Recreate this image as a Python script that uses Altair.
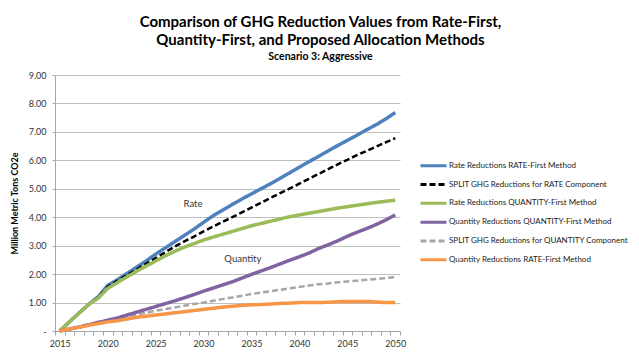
import altair as alt
import pandas as pd

years = list(range(2015, 2051))

series_names = [
    "Rate Reductions RATE-First Method",
    "SPLIT GHG Reductions for RATE Component",
    "Rate Reductions QUANTITY-First Method",
    "Quantity Reductions QUANTITY-First Method",
    "SPLIT GHG Reductions for QUANTITY Component",
    "Quantity Reductions RATE-First Method",
]
series_colors = ["#4F81BD", "#000000", "#9BBB59", "#8064A2", "#A6A6A6", "#F79646"]
series_dash = [[1, 0], [6, 3], [1, 0], [1, 0], [6, 3], [1, 0]]
dashed_series = [series_names[1], series_names[4]]
bottom_series = [series_names[0]]

rate_rate_first = [0, 0.32, 0.63, 0.93, 1.2, 1.6, 1.8, 2.02, 2.24, 2.46, 2.7, 2.92, 3.14, 3.36, 3.58,
                   3.82, 4.05, 4.25, 4.45, 4.64, 4.82, 5.0, 5.18, 5.37, 5.56, 5.76, 5.95, 6.14, 6.33,
                   6.52, 6.7, 6.88, 7.07, 7.25, 7.45, 7.68]
split_rate = [0, 0.32, 0.63, 0.93, 1.18, 1.56, 1.76, 1.96, 2.16, 2.36, 2.56, 2.77, 2.97, 3.15, 3.32,
              3.5, 3.67, 3.84, 4.0, 4.17, 4.34, 4.51, 4.68, 4.85, 5.01, 5.18, 5.35, 5.52, 5.69,
              5.86, 6.02, 6.18, 6.33, 6.48, 6.63, 6.78]
rate_quantity_first = [0, 0.32, 0.63, 0.93, 1.15, 1.5, 1.7, 1.9, 2.1, 2.28, 2.46, 2.64, 2.8, 2.95,
                       3.07, 3.2, 3.3, 3.4, 3.5, 3.6, 3.7, 3.78, 3.86, 3.94, 4.02, 4.08, 4.14, 4.2,
                       4.26, 4.32, 4.37, 4.42, 4.47, 4.52, 4.56, 4.6]
quantity_quantity_first = [0, 0.07, 0.14, 0.22, 0.3, 0.38, 0.46, 0.56, 0.66, 0.76, 0.86, 0.96, 1.06,
                           1.17, 1.28, 1.4, 1.51, 1.62, 1.73, 1.86, 1.99, 2.11, 2.23, 2.36, 2.49,
                           2.61, 2.74, 2.9, 3.03, 3.17, 3.33, 3.47, 3.6, 3.74, 3.9, 4.08]
split_quantity = [0, 0.06, 0.12, 0.2, 0.28, 0.36, 0.43, 0.5, 0.57, 0.64, 0.71, 0.77, 0.83, 0.89,
                  0.95, 1.0, 1.06, 1.12, 1.18, 1.24, 1.3, 1.35, 1.4, 1.45, 1.5, 1.55, 1.6, 1.64,
                  1.67, 1.71, 1.74, 1.77, 1.8, 1.83, 1.86, 1.89]
quantity_rate_first = [0, 0.07, 0.13, 0.2, 0.26, 0.32, 0.36, 0.42, 0.48, 0.52, 0.56, 0.6, 0.64, 0.68,
                       0.72, 0.76, 0.8, 0.84, 0.87, 0.9, 0.92, 0.93, 0.95, 0.97, 0.98, 1.0, 1.0, 1.0,
                       1.01, 1.03, 1.04, 1.04, 1.04, 1.02, 1.0, 1.0]

all_values = [rate_rate_first, split_rate, rate_quantity_first,
              quantity_quantity_first, split_quantity, quantity_rate_first]

annot_text = ["Rate", "Quantity"]
annot_year = [2028.9, 2034.1]
annot_value = [4.45, 2.52]

y_ticks = list(range(0, 10))
x_tick_positions = [2014.5 + i for i in range(37)]

rows = []
for name, vals in zip(series_names, all_values):
    for yr, v in zip(years, vals):
        rows.append({"Year": yr, "Value": v, "Series": name})
df = pd.DataFrame(rows)
ann = pd.DataFrame({"Year": annot_year, "Value": annot_value, "Label": annot_text})

FONT = "Lato"

x_enc = alt.X(
    "Year:Q",
    scale=alt.Scale(domain=[2014.5, 2050.5], nice=False, zero=False),
    axis=alt.Axis(
        title=None,
        values=x_tick_positions,
        labelExpr="datum.value % 5 == 4.5 ? toString(datum.value + 0.5) : ''",
        labelOffset=4.8,
        labelFlush=False,
        labelOverlap=False,
        grid=False,
        tickSize=4,
        tickColor="#A6A6A6",
        domainColor="#A6A6A6",
        labelFontSize=9,
        labelFont=FONT,
        labelColor="#333333",
        labelPadding=4,
    ),
)
y_enc = alt.Y(
    "Value:Q",
    scale=alt.Scale(domain=[0, 9], nice=False),
    axis=alt.Axis(
        title="Million Metric Tons CO2e",
        values=y_ticks,
        labelExpr="datum.value == 0 ? '-' : format(datum.value, '.2f')",
        labelOverlap=False,
        grid=True,
        gridColor="#BFBFBF",
        tickSize=3,
        tickColor="#A6A6A6",
        domainColor="#A6A6A6",
        labelFontSize=9,
        labelFont=FONT,
        labelColor="#333333",
        labelPadding=6,
        titleFont=FONT,
        titleFontSize=9,
        titleFontWeight="bold",
        titleColor="#000000",
        titlePadding=9,
    ),
)

color_enc = alt.Color(
    "Series:N",
    scale=alt.Scale(domain=series_names, range=series_colors),
    sort=series_names,
    legend=alt.Legend(
        title=None,
        orient="none",
        legendX=364,
        legendY=82,
        symbolType="stroke",
        symbolSize=676,
        symbolStrokeWidth=3,
        labelFont=FONT,
        labelFontSize=8,
        labelColor="#222222",
        labelOffset=1,
        labelLimit=300,
        clipHeight=17.5,
        rowPadding=0.8,
        padding=0,
    ),
)
dash_enc = alt.StrokeDash(
    "Series:N",
    scale=alt.Scale(domain=series_names, range=series_dash),
    sort=series_names,
    legend=alt.Legend(title=None),
)

base = alt.Chart(df).encode(x=x_enc, y=y_enc, color=color_enc, strokeDash=dash_enc)

solid_bottom = base.transform_filter(
    alt.FieldOneOfPredicate(field="Series", oneOf=bottom_series)
).mark_line(strokeWidth=3.5, strokeCap="butt")
dashed = base.transform_filter(
    alt.FieldOneOfPredicate(field="Series", oneOf=dashed_series)
).mark_line(strokeWidth=2.5, strokeCap="butt")
solid_top = base.transform_filter(
    ~alt.FieldOneOfPredicate(field="Series", oneOf=dashed_series + bottom_series)
).mark_line(strokeWidth=3.5, strokeCap="butt")

labels = alt.Chart(ann).mark_text(font=FONT, fontSize=9.5, color="#333333").encode(
    x=x_enc, y=y_enc, text="Label:N"
)

chart = alt.layer(solid_bottom, dashed, solid_top, labels).properties(
    width=345,
    height=256,
    autosize=alt.AutoSizeParams(type="none"),
    padding={"left": 47, "top": 67, "right": 231, "bottom": 18},
    title=alt.TitleParams(
        text=["Comparison of GHG Reduction Values from Rate-First,",
              "Quantity-First, and Proposed Allocation Methods"],
        subtitle="Scenario 3: Aggressive",
        anchor="middle",
        dx=93,
        font=FONT,
        fontSize=15,
        fontWeight="bold",
        color="#000000",
        lineHeight=18,
        subtitleFont=FONT,
        subtitleFontSize=10.5,
        subtitleFontWeight="bold",
        subtitleColor="#000000",
        subtitlePadding=4,
        offset=9,
    ),
).configure_view(stroke=None)

chart.save("out.html", embed_options={"renderer": "svg", "actions": False})
